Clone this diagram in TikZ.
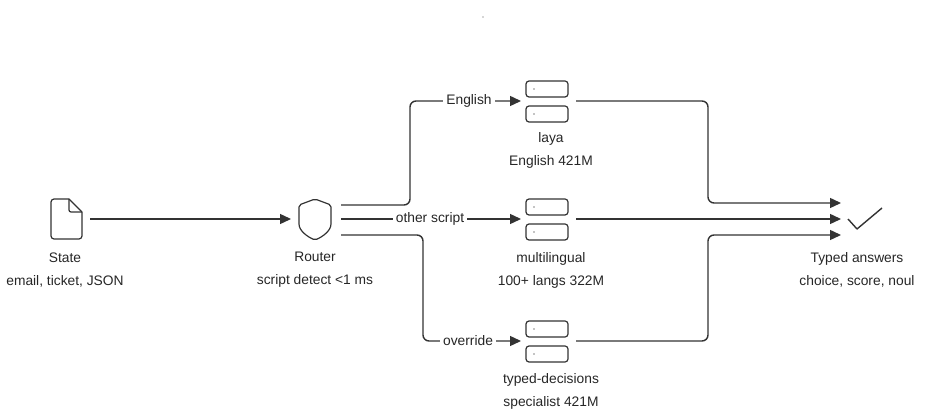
\documentclass[tikz,border=0pt]{standalone}
\usepackage{fontspec}
\setmainfont{Liberation Sans}
\usetikzlibrary{arrows.meta}
\begin{document}
\begin{tikzpicture}[x=1pt,y=-1pt,
  lbl/.style={font=\fontsize{13.8}{23}\selectfont,text=black!85,align=center},
  wire/.style={draw=black!80,line width=1.4pt,rounded corners=6pt},
  arr/.style={wire,-{Triangle[length=11pt,width=10pt]}},
  ico/.style={draw=black!80,line width=1.2pt,line join=round},
  mid/.style={fill=white,inner sep=3pt,font=\fontsize{13.8}{16}\selectfont,text=black!85}]
\useasboundingbox (0,0) rectangle (931,411);
\fill[black!70] (483,17) circle (0.7);
\coordinate (doc) at (65,219);
\coordinate (rt) at (315,219);
\coordinate (s1) at (547,101);
\coordinate (s2) at (547,219);
\coordinate (s3) at (547,341);
\coordinate (ok) at (865,219);
% doc icon
\draw[ico,rounded corners=3pt] (69,199) -- (51,199) -- (51,239) -- (82,239) -- (82,212);
\draw[ico] (69,199) -- (82,212);
\draw[ico,rounded corners=2pt] (69,199) -- (69,212) -- (82,212);
% shield
\draw[ico,rounded corners=2pt] (315,199) -- (299,205) -- (299,222) .. controls (299,231) and (308,237) .. (315,240) .. controls (322,237) and (331,231) .. (331,222) -- (331,205) -- cycle;
% servers
\foreach \c in {s1,s2,s3}{
  \draw[ico,rounded corners=3pt] ([xshift=-21pt,yshift=-21pt]\c) rectangle ([xshift=21pt,yshift=-5pt]\c);
  \draw[ico,rounded corners=3pt] ([xshift=-21pt,yshift=4pt]\c) rectangle ([xshift=21pt,yshift=20pt]\c);
  \fill[black] ([xshift=-13pt,yshift=-13pt]\c) circle (0.6);
  \fill[black] ([xshift=-13pt,yshift=12pt]\c) circle (0.6);
}
% check
\draw[ico,line width=1.4pt] (848,219) -- (857,229) -- (882,208);
% labels
\node[lbl] (tdoc) at (65,270) {State\\email, ticket, JSON};
\node[lbl] (trt) at (315,270) {Router\\script detect <1 ms};
\node[lbl] (t1) at (551,150) {laya\\English 421M};
\node[lbl] (t2) at (551,270) {multilingual\\100+ langs 322M};
\node[lbl] (t3) at (551,391) {typed-decisions\\specialist 421M};
\node[lbl] (tok) at (857,270) {Typed answers\\choice, score, noul};
% connectors
\draw[arr] (90,219) -- (291,219);
\draw[arr] (341,205) -- (410,205) -- (410,101) -- (521,101);
\node[mid] at (469,101) {English};
\draw[arr] (341,219) -- (521,219);
\node[mid] at (430,219) {other script};
\draw[arr] (341,235) -- (423,235) -- (423,341) -- (521,341);
\node[mid] at (468,341) {override};
\draw[arr] (576,101) -- (708,101) -- (708,203) -- (841,203);
\draw[arr] (576,219) -- (841,219);
\draw[arr] (576,341) -- (708,341) -- (708,235) -- (841,235);
\end{tikzpicture}
\end{document}
